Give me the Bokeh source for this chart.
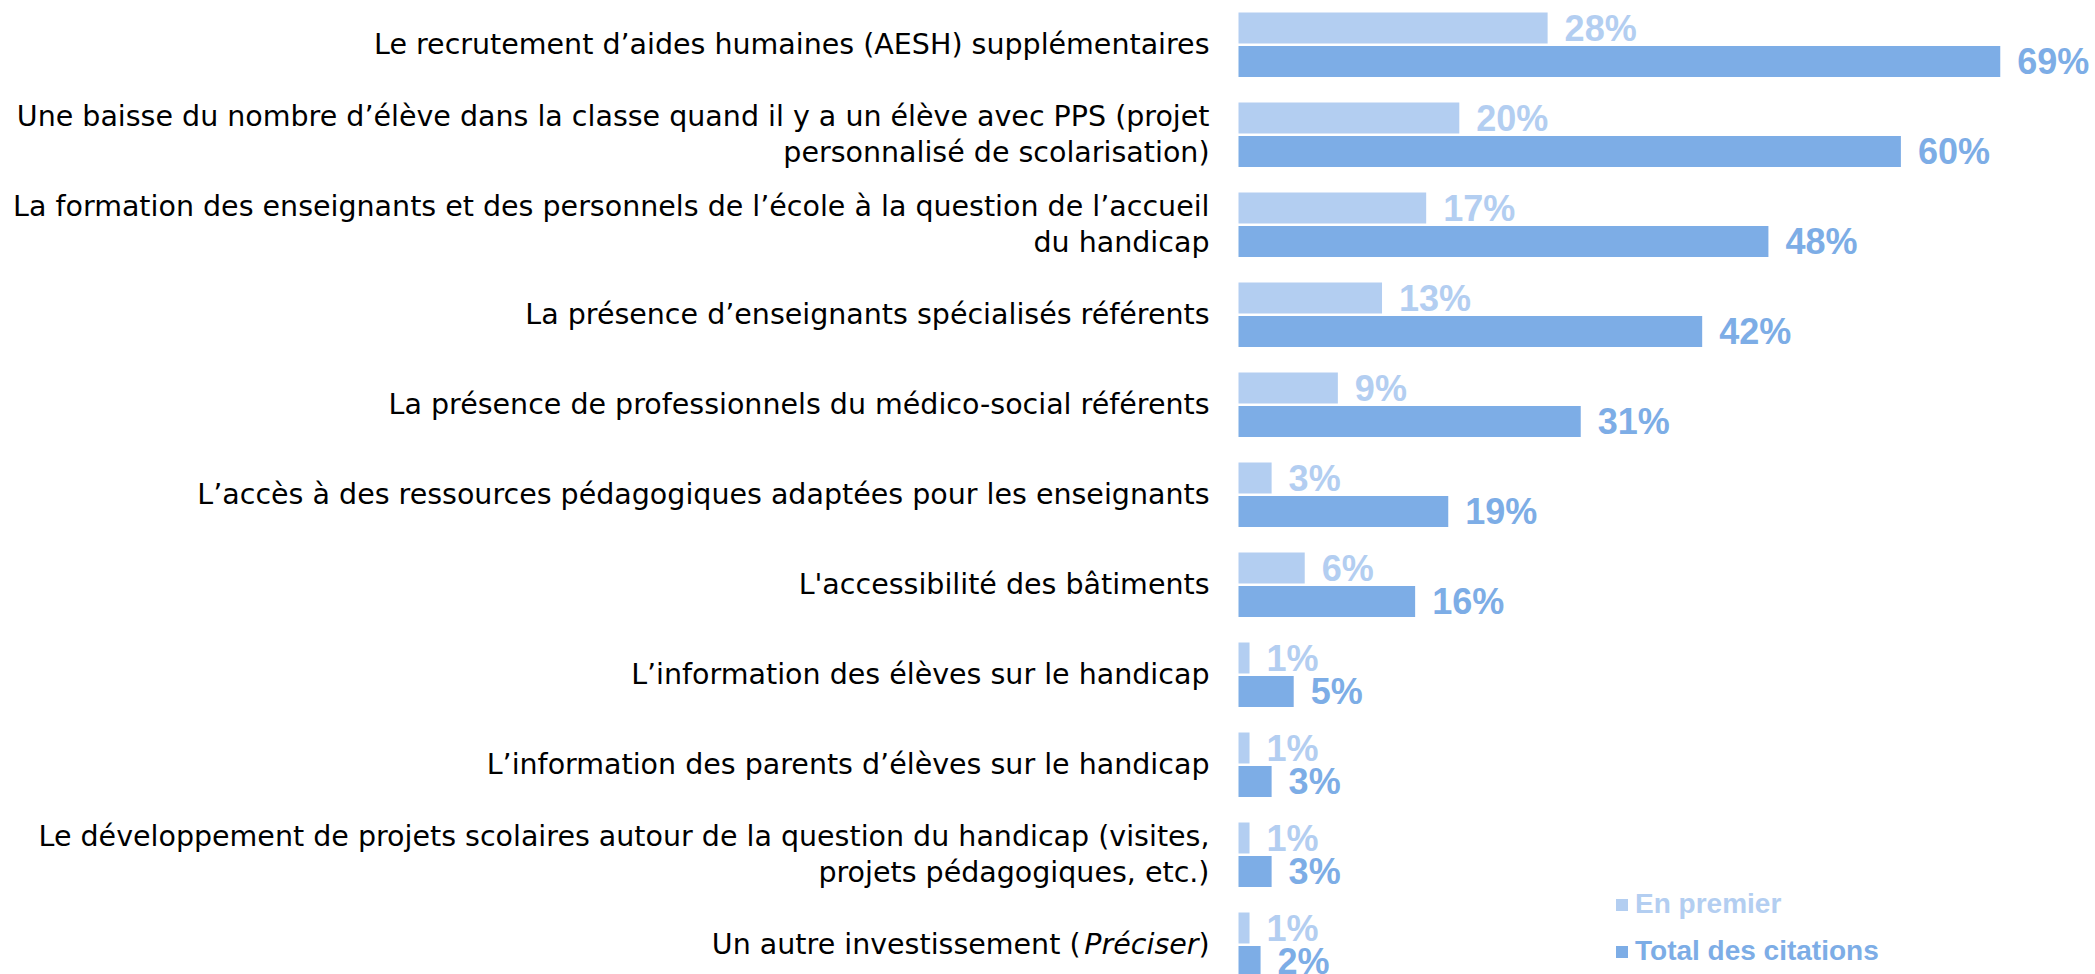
from bokeh.plotting import figure
from bokeh.models import Range1d, Legend, LegendItem
from bokeh.core.properties import value
from bokeh.embed import file_html
from bokeh.resources import INLINE

categories = [
    "Le recrutement d’aides humaines (AESH) supplémentaires",
    "Une baisse du nombre d’élève dans la classe quand il y a un élève avec PPS (projet\npersonnalisé de scolarisation)",
    "La formation des enseignants et des personnels de l’école à la question de l’accueil\ndu handicap",
    "La présence d’enseignants spécialisés référents",
    "La présence de professionnels du médico-social référents",
    "L’accès à des ressources pédagogiques adaptées pour les enseignants",
    "L'accessibilité des bâtiments",
    "L’information des élèves sur le handicap",
    "L’information des parents d’élèves sur le handicap",
    "Le développement de projets scolaires autour de la question du handicap (visites,\nprojets pédagogiques, etc.)",
    "Un autre investissement (Préciser)",
]
en_premier = [28, 20, 17, 13, 9, 3, 6, 1, 1, 1, 1]
total = [69, 60, 48, 42, 31, 19, 16, 5, 3, 3, 2]
series_names = ["En premier", "Total des citations"]

LIGHT = "#B3CEF1"
DARK = "#7DADE6"
LABEL_FONT = value("DejaVu Sans")
VALUE_FONT = value("Liberation Sans")
LABEL_SIZE = "28.5px"

W, H = 2095, 974
PX_PER_PCT = 11.04
PX_PER_ROW = 90.0
BAR_LEFT = 1238
TOP_PAD = 44

x_start = -BAR_LEFT / PX_PER_PCT
x_end = (W - BAR_LEFT) / PX_PER_PCT
y_end = TOP_PAD / PX_PER_ROW
y_start = y_end - H / PX_PER_ROW

p = figure(width=W, height=H, x_range=Range1d(x_start, x_end), y_range=Range1d(y_start, y_end),
           output_backend="svg", toolbar_location=None, min_border=0,
           x_axis_location=None, y_axis_location=None)
p.grid.visible = False
p.outline_line_color = None
p.background_fill_color = "white"

n = len(categories)
rows = [-i for i in range(n)]
off_l = 16.5 / PX_PER_ROW
off_d = 17.0 / PX_PER_ROW
bh = 31.0 / PX_PER_ROW
y_light = [r + off_l for r in rows]
y_dark = [r - off_d for r in rows]

r_light = p.hbar(y=y_light, left=0, right=en_premier, height=bh, fill_color=LIGHT, line_color=None)
r_dark = p.hbar(y=y_dark, left=0, right=total, height=bh, fill_color=DARK, line_color=None)

# value labels
p.text(x=en_premier, y=y_light, text=[f"{v}%" for v in en_premier], x_offset=17,
       text_align="left", text_baseline="middle", text_font=VALUE_FONT,
       text_font_size="36px", text_font_style="bold", text_color=LIGHT)
p.text(x=total, y=y_dark, text=[f"{v}%" for v in total], x_offset=17,
       text_align="left", text_baseline="middle", text_font=VALUE_FONT,
       text_font_size="36px", text_font_style="bold", text_color=DARK)

# category labels (last one has an italic part)
main_idx = list(range(n - 1))
p.text(x=[0] * len(main_idx), y=[rows[i] for i in main_idx], text=[categories[i] for i in main_idx],
       x_offset=-29, text_align="right", text_baseline="middle", text_font=LABEL_FONT,
       text_font_size=LABEL_SIZE, text_line_height=1.08, text_color="#000000")
last = categories[-1]
pre, rest = last.split("(")
ital = rest.rstrip(")")
common = dict(text_align="right", text_baseline="middle", text_font=LABEL_FONT,
              text_font_size=LABEL_SIZE, text_color="#000000")
p.text(x=[0], y=[rows[-1]], text=[")"], x_offset=-29, **common)
p.text(x=[0], y=[rows[-1]], text=[ital], x_offset=-40, text_font_style="italic", **common)
p.text(x=[0], y=[rows[-1]], text=[pre + "("], x_offset=-158, **common)

leg_common = dict(glyph_width=15, glyph_height=15, label_text_font="Liberation Sans",
                  label_text_font_size="28px", label_text_font_style="bold",
                  border_line_color=None, background_fill_alpha=0, padding=0, margin=0,
                  spacing=0, label_standoff=6, label_height=30)
leg1 = Legend(items=[LegendItem(label=series_names[0], renderers=[r_light])],
              location=(1614, 54), label_text_color=LIGHT, **leg_common)
leg2 = Legend(items=[LegendItem(label=series_names[1], renderers=[r_dark])],
              location=(1614, 7), label_text_color=DARK, **leg_common)
p.add_layout(leg1)
p.add_layout(leg2)

open("out.html", "w").write(file_html(p, INLINE))
